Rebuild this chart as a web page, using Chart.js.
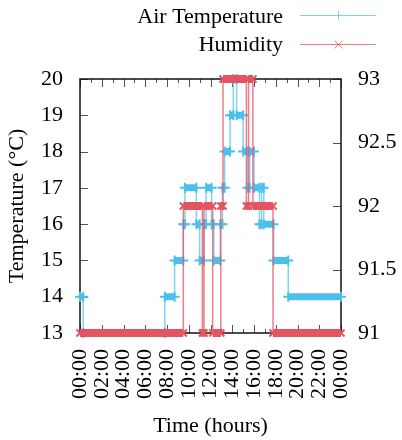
<!DOCTYPE html>
<html>
<head>
<meta charset="utf-8">
<script src="https://cdn.jsdelivr.net/npm/chart.js@4/dist/chart.umd.min.js"></script>
<style>
  html, body { margin: 0; padding: 0; background: #fff; }
  #wrap { width: 402px; height: 440px; }
</style>
</head>
<body>
<div id="wrap"><canvas id="chart-weather" width="402" height="440"></canvas></div>
<script>
// hours of day where the reading changes, and the level held from then on
const tempChangeHours = [0, 0.3, 7.8, 8.7, 9.5, 9.65, 10.7, 11.0, 11.4, 11.6, 12.1, 12.3, 12.9, 13.1, 13.3, 13.8, 14.1, 14.4, 15.0, 15.4, 15.6, 16.0, 16.5, 16.7, 16.9, 17.8, 19.15];
const tempLevels      = [14, 13, 14, 15, 16, 17, 16, 15, 16, 17, 16, 15, 16, 17, 18, 19, 20, 19, 18, 17, 18, 17, 16, 17, 16, 15, 14];
const humChangeHours  = [0, 9.5, 11.25, 11.4, 12.2, 12.95, 13.15, 15.3, 15.5, 15.9, 17.75];
const humLevels       = [91, 92, 91, 92, 91, 92, 93, 92, 93, 92, 91];
const dayEnd = 24;

const tempTicks = [13, 14, 15, 16, 17, 18, 19, 20];
const humTicks = [91, 91.5, 92, 92.5, 93];
const hourTicks = [0, 2, 4, 6, 8, 10, 12, 14, 16, 18, 20, 22, 24];

const blue = '#4dbfec';
const blueThin = 'rgba(77,191,236,0.7)';
const red = '#e45461';
const redThin = 'rgba(228,84,97,0.75)';
const serif = "'Liberation Serif', 'DejaVu Serif', serif";

function stepPoints(hours, levels){
  var pts = hours.map((h, i) => ({x: h, y: levels[i]}));
  pts.push({x: dayEnd, y: levels[levels.length - 1]});
  return pts;
}

function runPoints(hours, levels){
  var pts = [];
  for (let i = 0; i < hours.length; i++){
    var end = i + 1 < hours.length ? hours[i + 1] : dayEnd;
    pts.push({x: hours[i], y: levels[i]});
    pts.push({x: end, y: levels[i]});
    pts.push({x: end, y: null});
  }
  return pts;
}

function hhmm(v){
  var h = Math.round(v) % 24;
  return (h < 10 ? '0' : '') + h + ':00';
}

// gnuplot style box with inward ticks
const framePlugin = {
  id: 'frame',
  beforeDatasetsDraw(chart){
    const ctx = chart.ctx, a = chart.chartArea;
    const xs = chart.scales.x, yl = chart.scales.y, yr = chart.scales.y2;
    ctx.save();
    ctx.strokeStyle = '#555';
    ctx.lineWidth = 1;
    ctx.beginPath();
    for (let h = 0; h <= 24; h++){
      var px = Math.round(xs.getPixelForValue(h)) + 0.5;
      var len = h % 2 === 0 ? 8 : 4;
      ctx.moveTo(px, a.bottom); ctx.lineTo(px, a.bottom - len);
      ctx.moveTo(px, a.top); ctx.lineTo(px, a.top + len);
    }
    tempTicks.forEach(v => {
      var py = Math.round(yl.getPixelForValue(v)) + 0.5;
      ctx.moveTo(a.left, py); ctx.lineTo(a.left + 8, py);
    });
    humTicks.forEach(v => {
      var py = Math.round(yr.getPixelForValue(v)) + 0.5;
      ctx.moveTo(a.right, py); ctx.lineTo(a.right - 8, py);
    });
    ctx.stroke();
    ctx.strokeStyle = '#111';
    ctx.lineWidth = 1.5;
    ctx.strokeRect(a.left, a.top, a.right - a.left, a.bottom - a.top);
    ctx.restore();
  },
  afterDraw(chart){
    const ctx = chart.ctx;
    ctx.save();
    ctx.font = '22px ' + serif;
    ctx.fillStyle = '#000';
    ctx.textAlign = 'right';
    ctx.textBaseline = 'alphabetic';
    ctx.fillText('Air Temperature', 283, 23);
    ctx.fillText('Humidity', 283, 51);
    ctx.lineWidth = 1;
    ctx.strokeStyle = blueThin;
    ctx.beginPath();
    ctx.moveTo(300, 15.5); ctx.lineTo(376, 15.5);
    ctx.moveTo(338.5, 11); ctx.lineTo(338.5, 20);
    ctx.stroke();
    ctx.strokeStyle = redThin;
    ctx.beginPath();
    ctx.moveTo(300, 44.5); ctx.lineTo(376, 44.5);
    ctx.moveTo(334.5, 40.5); ctx.lineTo(342.5, 48.5);
    ctx.moveTo(342.5, 40.5); ctx.lineTo(334.5, 48.5);
    ctx.stroke();
    ctx.restore();
  }
};

var canvas = document.getElementById('chart-weather');

new Chart(canvas, {
  type: 'line',
  data: {
    datasets: [
      {
        data: runPoints(humChangeHours, humLevels),
        yAxisID: 'y2',
        borderColor: red,
        borderWidth: 8,
        spanGaps: false,
        pointStyle: 'crossRot',
        pointRadius: 5,
        pointBorderWidth: 2,
        pointBorderColor: red,
        clip: false
      },
      {
        data: stepPoints(humChangeHours, humLevels),
        yAxisID: 'y2',
        stepped: true,
        borderColor: redThin,
        borderWidth: 1.5,
        pointRadius: 0,
        clip: false
      },
      {
        data: runPoints(tempChangeHours, tempLevels),
        yAxisID: 'y',
        borderColor: blue,
        borderWidth: 7,
        spanGaps: false,
        pointStyle: 'cross',
        pointRadius: 5,
        pointBorderWidth: 2,
        pointBorderColor: blue,
        clip: false
      },
      {
        data: stepPoints(tempChangeHours, tempLevels),
        yAxisID: 'y',
        stepped: true,
        borderColor: blueThin,
        borderWidth: 1.5,
        pointRadius: 0,
        clip: false
      }
    ]
  },
  options: {
    responsive: false,
    animation: false,
    layout: { padding: { top: 79, left: 0, right: 0, bottom: 0 } },
    plugins: {
      legend: { display: false },
      tooltip: { enabled: false }
    },
    scales: {
      x: {
        type: 'linear',
        min: 0,
        max: dayEnd,
        afterFit: (s) => { s.height = 107; },
        afterBuildTicks: (s) => { s.ticks = hourTicks.map(v => ({value: v})); },
        grid: { display: false, drawTicks: false },
        border: { display: false },
        ticks: {
          autoSkip: false,
          minRotation: 90,
          maxRotation: 90,
          padding: 16,
          color: '#000',
          font: { family: serif, size: 22 },
          callback: (v) => hhmm(v)
        },
        title: {
          display: true,
          text: 'Time (hours)',
          color: '#000',
          font: { family: serif, size: 22 },
          padding: { top: 0, bottom: 1 }
        }
      },
      y: {
        position: 'left',
        min: 13,
        max: 20,
        afterFit: (s) => { s.width = 80; },
        afterBuildTicks: (s) => { s.ticks = tempTicks.map(v => ({value: v})); },
        grid: { display: false, drawTicks: false },
        border: { display: false },
        ticks: {
          padding: 17,
          color: '#000',
          font: { family: serif, size: 22 },
          callback: (v) => String(v)
        },
        title: {
          display: true,
          text: 'Temperature (°C)',
          color: '#000',
          font: { family: serif, size: 22 },
          padding: { top: 4, bottom: 0 }
        }
      },
      y2: {
        position: 'right',
        min: 91,
        max: 93,
        afterFit: (s) => { s.width = 61; },
        afterBuildTicks: (s) => { s.ticks = humTicks.map(v => ({value: v})); },
        grid: { display: false, drawTicks: false },
        border: { display: false },
        ticks: {
          padding: 17,
          color: '#000',
          font: { family: serif, size: 22 },
          callback: (v) => String(v)
        }
      }
    }
  },
  plugins: [framePlugin]
});
</script>
</body>
</html>
